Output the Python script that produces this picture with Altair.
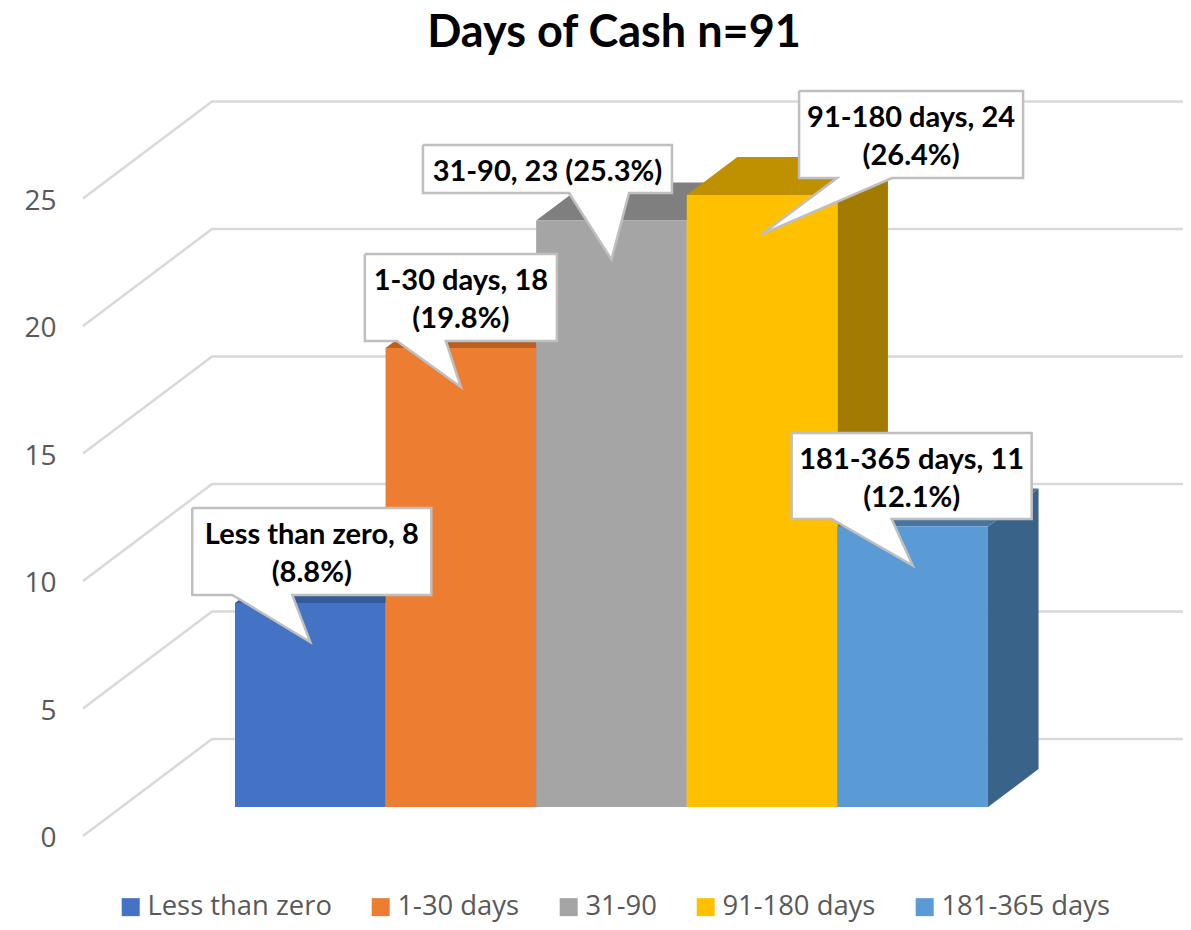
import altair as alt
import pandas as pd

# ---- values
categories = ["Less than zero", "1-30 days", "31-90", "91-180 days", "181-365 days"]
counts = [8, 18, 23, 24, 11]
shares = ["8.8%", "19.8%", "25.3%", "26.4%", "12.1%"]
label_lines = [
    ["Less than zero, 8", "(8.8%)"],
    ["1-30 days, 18", "(19.8%)"],
    ["31-90, 23 (25.3%)"],
    ["91-180 days, 24", "(26.4%)"],
    ["181-365 days, 11", "(12.1%)"],
]
ticks = [0, 5, 10, 15, 20, 25]

# ---- styles
front_colors = ["#4472C4", "#ED7D31", "#A5A5A5", "#FFC000", "#5B9BD5"]
top_colors = ["#355A9C", "#BA5F22", "#7F7F7F", "#BF9000", "#4675A1"]
side_colors = ["#2B4A80", "#9A4F1C", "#696969", "#A37B00", "#3A6389"]
GRID = "#D9D9D9"
BORDER = "#BFBFBF"
SANS = "Open Sans"
BOLD = "Lato"

# ---- oblique projection (slots and value units)
PX_SLOT = 150.6     # pixels per bar slot
PX_UNIT = 25.5      # pixels per value unit
SHIFT_X = 129 / PX_SLOT   # wall depth, horizontal
SHIFT_Y = 97 / PX_UNIT    # wall depth, vertical
D0, D1 = 0.299, 0.691     # bar depth span within the wall depth
WALL_X = -113.4 / PX_SLOT # left edge of the wall, in slots
PLOT_W = 1100
X_MAX = WALL_X + PLOT_W / PX_SLOT
Y_MIN, Y_MAX = -14 / PX_UNIT, 776 / PX_UNIT


def px(slot, depth=0.0):
    return slot + SHIFT_X * depth


def py(value, depth=0.0):
    return value + SHIFT_Y * depth


# ---- callout layout: offsets from each bar's top centre, in pixels
box_left = [-118, -96, -188.5, 37, -121]
box_right = [121, 96, 60.5, 261, 119]
box_top = [95, 94, 75.5, 104, 93.5]
box_bottom = [8, 7, 27.5, 17, 7.5]
tail_a = [-78, -64, -42.5, 75, -81]
tail_b = [-18, -15, 17.5, 130, -21]
TIP_DROP = 39
LINE_GAP = 19
TEXT_DROP = 3

# ---- tables
walls, sides, tops, fronts = [], [], [], []
for t in ticks:
    walls += [
        {"t": t, "x": WALL_X, "y": py(t), "o": 0},
        {"t": t, "x": WALL_X + SHIFT_X, "y": py(t, 1), "o": 1},
        {"t": t, "x": X_MAX, "y": py(t, 1), "o": 2},
    ]

for i, (cat, n) in enumerate(zip(categories, counts)):
    r = i + 1
    sides += [
        {"b": cat, "x": px(r, d), "y": py(0, d), "y2": py(n, d), "c": side_colors[i]}
        for d in (D0, D1)
    ]
    tops += [
        {"b": cat, "y": py(n, d), "x": px(i, d), "x2": px(r, d), "c": top_colors[i]}
        for d in (D0, D1)
    ]
    fronts.append(
        {"cat": cat, "x": px(i, D0), "x2": px(r, D0), "y": py(0, D0), "y2": py(n, D0)}
    )

boxes, tails, outlines, texts = [], [], [], []
for i, n in enumerate(counts):
    cx = px(i + 0.5, D0)
    cy = py(n, D0)
    X = lambda off: cx + off / PX_SLOT
    Y = lambda off: cy + off / PX_UNIT
    L, R = X(box_left[i]), X(box_right[i])
    T, B = Y(box_top[i]), Y(box_bottom[i])
    a, b = X(tail_a[i]), X(tail_b[i])
    tip_x, tip_y = cx, Y(-TIP_DROP)
    boxes.append({"x": L, "x2": R, "y": B, "y2": T})
    tails += [
        {"k": i, "y": B, "x": a, "x2": b},
        {"k": i, "y": tip_y, "x": tip_x, "x2": tip_x},
    ]
    path = [(L, T), (R, T), (R, B), (b, B), (tip_x, tip_y), (a, B), (L, B), (L, T)]
    outlines += [{"k": i, "o": j, "x": p[0], "y": p[1]} for j, p in enumerate(path)]
    mid_x, mid_y = (L + R) / 2, (T + B) / 2
    lines = label_lines[i]
    for j, s in enumerate(lines):
        off = (j - (len(lines) - 1) / 2) * 2 * LINE_GAP + TEXT_DROP
        texts.append({"x": mid_x, "y": mid_y - off / PX_UNIT, "s": s})

# ---- scales
xs = alt.Scale(domain=[WALL_X, X_MAX], nice=False, zero=False)
ys = alt.Scale(domain=[Y_MIN, Y_MAX], nice=False, zero=False)
y_axis = alt.Axis(
    values=ticks, title=None, domain=False, ticks=False, grid=False,
    labelFont=SANS, labelFontSize=28, labelColor="#595959", labelPadding=27,
    labelOffset=2.5,
)
X_ = alt.X("x:Q", scale=xs, axis=None)
Y_ = alt.Y("y:Q", scale=ys, axis=y_axis)

wall_layer = alt.Chart(pd.DataFrame(walls)).mark_line(
    color=GRID, strokeWidth=2.5, strokeJoin="miter"
).encode(x=X_, y=Y_, detail="t:N", order="o:Q")

side_layer = alt.Chart(pd.DataFrame(sides)).mark_area(orient="vertical").encode(
    x=X_, y=Y_, y2="y2:Q", detail="b:N", color=alt.Color("c:N", scale=None)
)
top_layer = alt.Chart(pd.DataFrame(tops)).mark_area(orient="horizontal").encode(
    y=Y_, x=X_, x2="x2:Q", detail="b:N", color=alt.Color("c:N", scale=None)
)
front_layer = alt.Chart(pd.DataFrame(fronts)).mark_rect().encode(
    x=X_, x2="x2:Q", y=Y_, y2="y2:Q",
    color=alt.Color(
        "cat:N",
        sort=categories,
        scale=alt.Scale(domain=categories, range=front_colors),
        legend=alt.Legend(
            title=None, orient="none", direction="horizontal", columns=5,
            legendX=34, legendY=833, symbolType="square", symbolSize=324,
            symbolStrokeWidth=0, symbolOpacity=1, labelFont=SANS, labelFontSize=27.4,
            labelColor="#595959", labelOffset=3, columnPadding=35, labelLimit=300,
        ),
    ),
)
box_layer = alt.Chart(pd.DataFrame(boxes)).mark_rect(color="white").encode(
    x=X_, x2="x2:Q", y=Y_, y2="y2:Q"
)
tail_layer = alt.Chart(pd.DataFrame(tails)).mark_area(
    orient="horizontal", color="white"
).encode(y=Y_, x=X_, x2="x2:Q", detail="k:N")
outline_layer = alt.Chart(pd.DataFrame(outlines)).mark_line(
    color=BORDER, strokeWidth=2.5, strokeJoin="miter"
).encode(x=X_, y=Y_, detail="k:N", order="o:Q")
text_layer = alt.Chart(pd.DataFrame(texts)).mark_text(
    font=BOLD, fontWeight="bold", fontSize=29, color="black", align="center", baseline="middle"
).encode(x=X_, y=Y_, text="s:N")

chart = alt.layer(
    wall_layer, side_layer, top_layer, front_layer,
    box_layer, tail_layer, outline_layer, text_layer,
).resolve_scale(color="independent").properties(
    width=PLOT_W,
    height=790,
    padding={"left": 75, "top": 52, "right": 0, "bottom": 76},
    autosize=alt.AutoSizeParams(type="none"),
    title=alt.TitleParams(
        "Days of Cash n=91", font=BOLD, fontSize=45, fontWeight="bold",
        color="black", anchor="middle", dx=-19, offset=4,
    ),
).configure_view(stroke=None)

chart.save("out.html", embed_options={"renderer": "svg", "actions": False})
